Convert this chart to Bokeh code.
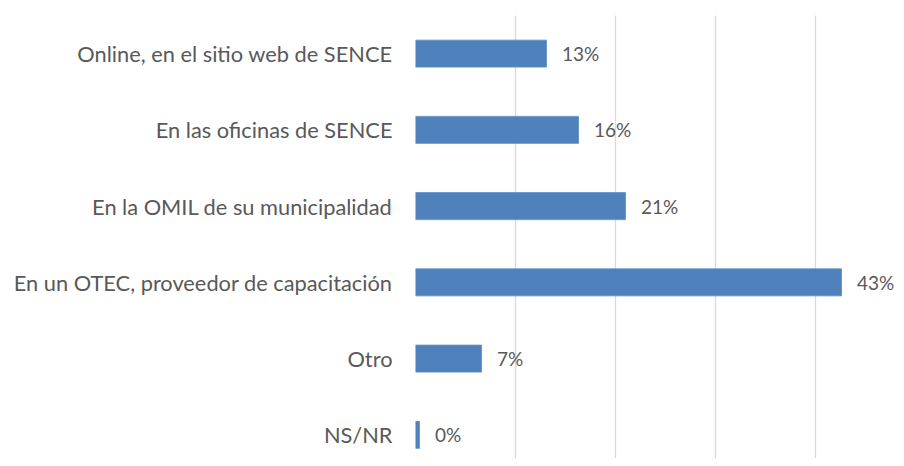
from bokeh.plotting import figure
from bokeh.models import Range1d, FixedTicker, Grid, SingleIntervalTicker, ColumnDataSource
from bokeh.core.properties import value
from bokeh.embed import file_html
from bokeh.resources import INLINE

categories = [
    "Online, en el sitio web de SENCE",
    "En las oficinas de SENCE",
    "En la OMIL de su municipalidad",
    "En un OTEC, proveedor de capacitación",
    "Otro",
    "NS/NR",
]
values = [13.1, 16.3, 21.0, 42.6, 6.6, 0.4]
labels = ["13%", "16%", "21%", "43%", "7%", "0%"]

n = len(categories)
ypos = [n - 1 - i for i in range(n)]

FONT = "Lato"
TEXT_COLOR = "#595959"

p = figure(
    width=896, height=458,
    x_range=Range1d(0, 48.1),
    y_range=Range1d(-0.31, 5.5),
    x_axis_location=None,
    output_backend="svg", toolbar_location=None,
    min_border_left=415, min_border_right=0, min_border_top=15, min_border_bottom=0,
)
p.outline_line_color = None
p.background_fill_color = "white"
p.border_fill_color = "white"

p.ygrid.visible = False
xgrid = Grid(dimension=0, ticker=SingleIntervalTicker(interval=10),
             grid_line_color="#d9d9d9", grid_line_width=1.3)
p.add_layout(xgrid)

p.yaxis.ticker = FixedTicker(ticks=ypos)
p.yaxis.major_label_overrides = {y: c for y, c in zip(ypos, categories)}
p.yaxis.axis_line_color = None
p.yaxis.major_tick_line_color = None
p.yaxis.minor_tick_line_color = None
p.yaxis.major_tick_out = 0
p.yaxis.major_label_standoff = 23
p.yaxis.major_label_text_font = FONT
p.yaxis.major_label_text_font_size = "21.8px"
p.yaxis.major_label_text_color = TEXT_COLOR

src = ColumnDataSource(dict(y=ypos, v=values, lab=labels))
p.hbar(y="y", right="v", left=0, height=0.354, source=src,
       fill_color="#4f81bd", line_color="#5b8bc4", line_width=0.8)
p.text(x="v", y="y", text="lab", source=src, x_offset=15.5,
       text_align="left", text_baseline="middle",
       text_font=value(FONT), text_font_size="19px", text_color=TEXT_COLOR)

open("out.html", "w").write(file_html(p, INLINE))
